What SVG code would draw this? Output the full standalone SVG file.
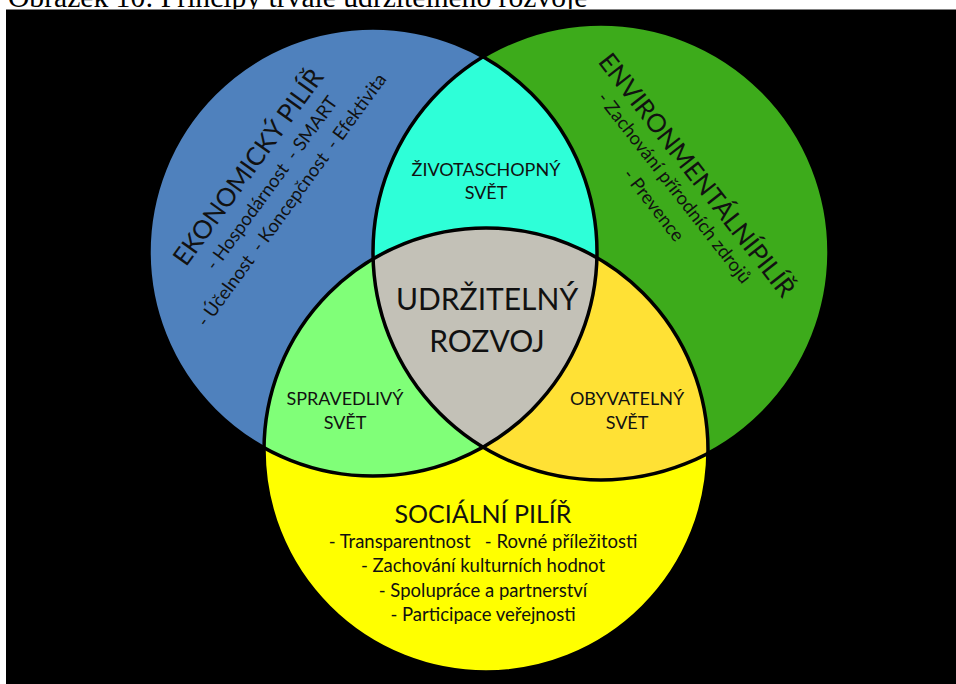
<svg xmlns="http://www.w3.org/2000/svg" width="956" height="684" viewBox="0 0 956 684">
  <style>
    text { font-family: Lato, "Noto Sans", "DejaVu Sans", sans-serif; fill: #111; }
    .cap { font-family: "Liberation Serif", "Times New Roman", serif; font-size: 29.6px; fill: #000; }
    .big { font-size: 30px; text-anchor: middle; }
    .mid { font-size: 18px; text-anchor: middle; }
    .title { font-size: 25.5px; text-anchor: middle; }
    .sub { font-size: 18.5px; text-anchor: middle; }
    .soc { font-size: 18.5px; text-anchor: middle; }
    .outline { fill: none; stroke: #000; stroke-width: 3.5; }
  </style>
  <defs>
    <clipPath id="clipBlue"><circle cx="373" cy="252" r="224"/></clipPath>
    <clipPath id="clipGreen"><circle cx="601" cy="252" r="228"/></clipPath>
  </defs>
  <rect x="0" y="0" width="956" height="684" fill="#ffffff"/>
  <text class="cap" x="8" y="7">Obrázek 10: Principy trvale udržitelného rozvoje</text>
  <rect x="6" y="9.5" width="950" height="674.5" fill="#000"/>
  <line x1="6" y1="9.5" x2="956" y2="9.5" stroke="#808080" stroke-width="1"/>

  <g id="node-ekonomicky">
    <circle cx="373" cy="252" r="224" fill="#4F81BD"/>
  </g>
  <g id="node-environmentalni">
    <circle cx="601" cy="252" r="228" fill="#3DAB1B"/>
  </g>
  <g id="node-socialni">
    <circle cx="486" cy="450" r="222" fill="#FFFF00"/>
  </g>
  <g id="node-zivotaschopny">
    <circle cx="601" cy="252" r="228" fill="#2EFFD8" clip-path="url(#clipBlue)"/>
  </g>
  <g id="node-spravedlivy">
    <circle cx="486" cy="450" r="222" fill="#80FF78" clip-path="url(#clipBlue)"/>
  </g>
  <g id="node-obyvatelny">
    <circle cx="486" cy="450" r="222" fill="#FFE135" clip-path="url(#clipGreen)"/>
  </g>
  <g id="node-udrzitelny">
    <g clip-path="url(#clipBlue)">
      <circle cx="486" cy="450" r="222" fill="#C3C1B7" clip-path="url(#clipGreen)"/>
    </g>
  </g>

  <g id="connectors">
    <circle class="outline" cx="373" cy="252" r="224"/>
    <circle class="outline" cx="601" cy="252" r="228"/>
    <circle class="outline" cx="486" cy="450" r="222"/>
  </g>

  <g id="labels">
    <g transform="translate(248,167) rotate(-54)">
      <text class="title" x="0" y="9">EKONOMICKÝ PILÍŘ</text>
      <text class="sub" x="1" y="35" xml:space="preserve">- Hospodárnost  - SMART</text>
      <text class="sub" x="-1" y="61" xml:space="preserve">- Účelnost  - Koncepčnost  - Efektivita</text>
    </g>
    <g transform="translate(697,175) rotate(52)">
      <text class="title" x="0" y="9">ENVIRONMENTÁLNÍPILÍŘ</text>
      <text class="sub" x="-4" y="32">- Zachování přírodních zdrojů</text>
      <text class="sub" x="-3" y="59">- Prevence</text>
    </g>
    <text class="mid" x="486" y="176">ŽIVOTASCHOPNÝ</text>
    <text class="mid" x="486" y="199">SVĚT</text>
    <text class="big" x="487" y="310">UDRŽITELNÝ</text>
    <text class="big" x="487" y="352">ROZVOJ</text>
    <text class="mid" x="345" y="405">SPRAVEDLIVÝ</text>
    <text class="mid" x="345" y="429">SVĚT</text>
    <text class="mid" x="627" y="405">OBYVATELNÝ</text>
    <text class="mid" x="627" y="429">SVĚT</text>
    <text x="483" y="523" style="font-size:25px;text-anchor:middle">SOCIÁLNÍ PILÍŘ</text>
    <text class="soc" x="483" y="548" xml:space="preserve">- Transparentnost   - Rovné příležitosti</text>
    <text class="soc" x="483" y="572">- Zachování kulturních hodnot</text>
    <text class="soc" x="483" y="597">- Spolupráce a partnerství</text>
    <text class="soc" x="483" y="621">- Participace veřejnosti</text>
  </g>
</svg>
